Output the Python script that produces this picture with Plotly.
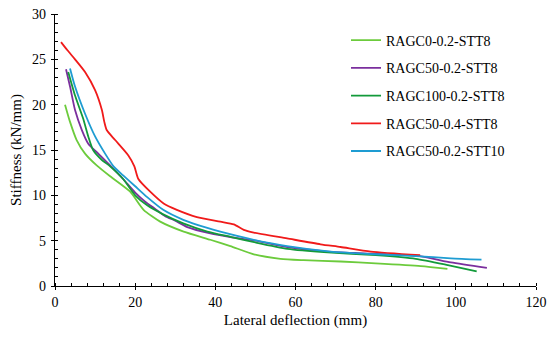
import plotly.graph_objects as go

names = ["RAGC0-0.2-STT8", "RAGC50-0.2-STT8", "RAGC100-0.2-STT8", "RAGC50-0.4-STT8", "RAGC50-0.2-STT10"]
colors = ["#6CCB3C", "#7B2F9E", "#129A3A", "#F01A1A", "#1E9CD2"]

x_g0 = [2.5, 3.75, 5.4, 7.5, 10.4, 13.75, 18.75, 22.1, 26.25, 32.1, 38.75, 43.75, 49.6, 56.25, 62, 71.25, 80, 91.25, 97.9]
y_g0 = [20.0, 18.1, 16.1, 14.6, 13.3, 12.1, 10.4, 8.4, 7.1, 6.0, 5.1, 4.4, 3.5, 3.0, 2.85, 2.7, 2.5, 2.2, 1.9]

x_p50 = [2.75, 3.75, 5, 6.7, 8.3, 10.8, 13.75, 17, 20, 22.5, 25, 27.5, 30, 33, 38.75, 43.75, 50, 58, 68, 77, 91, 98.75, 107.75]
y_p50 = [23.9, 22.0, 19.4, 17.2, 15.7, 14.6, 13.3, 11.8, 10.3, 9.3, 8.5, 7.7, 7.2, 6.5, 5.8, 5.4, 5.0, 4.3, 3.8, 3.6, 3.3, 2.6, 2.0]

x_g100 = [3.3, 5, 7, 8.3, 9.5, 11.7, 13.75, 17, 20, 23, 27, 32, 38, 44, 50, 58, 68, 80, 90, 98, 105.2]
y_g100 = [23.6, 21.0, 18.5, 16.5, 15.0, 13.9, 13.2, 11.8, 10.0, 8.9, 7.9, 6.9, 6.0, 5.4, 4.8, 4.1, 3.7, 3.4, 3.0, 2.3, 1.6]

x_r04 = [1.5, 3.1, 5, 7.5, 10, 11.7, 12.3, 12.9, 15, 18.3, 19.8, 20.8, 23.75, 27.1, 30.4, 35.4, 41.25, 44.6, 47.1, 49.6, 57.9, 66.25, 71.25, 78.75, 91.1]
y_r04 = [26.9, 26.0, 25.0, 23.6, 21.6, 19.4, 18.1, 17.2, 16.1, 14.4, 13.2, 11.8, 10.4, 9.1, 8.4, 7.6, 7.1, 6.8, 6.2, 5.9, 5.25, 4.6, 4.3, 3.8, 3.4]

x_b10 = [3.75, 5, 7.5, 10, 12.5, 14.6, 17, 20, 23, 27, 32, 38, 41.25, 49.6, 57.9, 68.75, 80, 90, 98.75, 106.4]
y_b10 = [24.0, 22.0, 19.0, 16.5, 14.6, 13.2, 12.2, 11.0, 9.8, 8.4, 7.3, 6.4, 6.0, 5.1, 4.4, 3.8, 3.5, 3.3, 3.05, 2.9]

series_x = [x_g0, x_p50, x_g100, x_r04, x_b10]
series_y = [y_g0, y_p50, y_g100, y_r04, y_b10]

x_ticks = [0, 20, 40, 60, 80, 100, 120]
y_ticks = [0, 5, 10, 15, 20, 25, 30]
x_range = [0, 120]
y_range = [0, 30]

FONT = "Liberation Serif"

fig = go.Figure()
for i, (n, c, xs, ys) in enumerate(zip(names, colors, series_x, series_y)):
    fig.add_trace(go.Scatter(
        x=xs, y=ys, name=n, mode="lines",
        line=dict(color=c, width=1.8, shape="spline", smoothing=0.6),
        legendgroup=f"g{i}",
    ))

axis_common = dict(
    showgrid=False, zeroline=False, showline=True, linecolor="black", linewidth=1.3,
    ticks="outside", ticklen=3, tickwidth=1.3, tickcolor="black",
    tickfont=dict(family=FONT, size=14, color="black"),
    title_font=dict(family=FONT, size=15, color="black"),
    automargin=False,
)

fig.update_layout(
    xaxis=dict(
        range=x_range, tickvals=x_ticks,
        title_text="Lateral deflection (mm)", title_standoff=5,
        minor=dict(ticks="inside", ticklen=3, tickwidth=1, tickcolor="black", dtick=4, tick0=0),
        **axis_common,
    ),
    yaxis=dict(
        range=y_range, tickvals=y_ticks,
        title_text="Stiffness (kN/mm)", title_standoff=6,
        ticklabelstandoff=2,
        minor=dict(ticks="inside", ticklen=3, tickwidth=1, tickcolor="black", dtick=1, tick0=0),
        **axis_common,
    ),
    # overlay axes draw the inner half of the crossing major ticks
    xaxis2=dict(
        overlaying="x", anchor="y", side="bottom", range=x_range, tickvals=x_ticks,
        ticks="inside", ticklen=4, tickwidth=1.3, tickcolor="black",
        showticklabels=False, showline=False, showgrid=False, zeroline=False, automargin=False,
    ),
    yaxis2=dict(
        overlaying="y", anchor="x", side="left", range=y_range, tickvals=y_ticks,
        ticks="inside", ticklen=4, tickwidth=1.3, tickcolor="black",
        showticklabels=False, showline=False, showgrid=False, zeroline=False, automargin=False,
    ),
    width=550, height=338,
    margin=dict(l=55, r=14, t=14, b=52),
    paper_bgcolor="white", plot_bgcolor="white",
    font=dict(family=FONT, color="black"),
    legend=dict(
        x=0.605, y=0.961, xanchor="left", yanchor="top",
        font=dict(family=FONT, size=14, color="black"),
        bgcolor="rgba(0,0,0,0)", tracegroupgap=6.5, itemwidth=30,
    ),
    showlegend=True,
)

fig.write_html(
    "out.html",
    config={"displayModeBar": False},
    post_script="document.body.style.margin='0';document.body.style.overflow='hidden';",
)
